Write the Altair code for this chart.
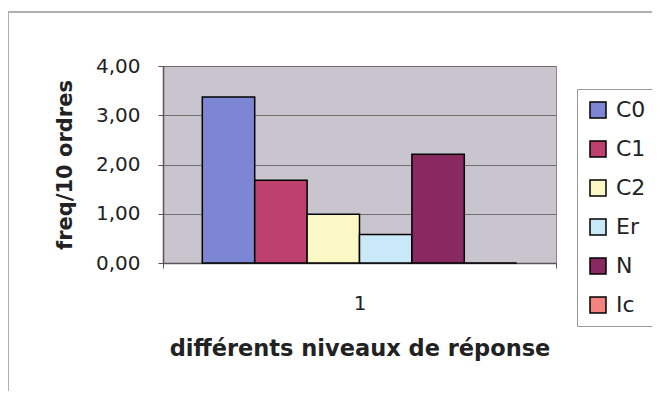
import altair as alt
import pandas as pd

series = ["C0", "C1", "C2", "Er", "N", "Ic"]
values = [3.37, 1.68, 0.99, 0.58, 2.21, 0.0]
category = ["1"] * len(series)
colors = ["#7c86d4", "#bd416c", "#fcf8c6", "#c9e9f8", "#8a2862", "#f2837f"]
y_ticks = [0, 1, 2, 3, 4]

df = pd.DataFrame({"cat": category, "serie": series, "val": values})

FONT = "DejaVu Sans"

bars = alt.Chart(df).mark_bar(stroke="black", strokeWidth=1.5).encode(
    x=alt.X("cat:N", title="différents niveaux de réponse",
            scale=alt.Scale(paddingInner=0, paddingOuter=0),
            axis=alt.Axis(labelAngle=0, tickBand="extent", tickSize=5,
                          labelPadding=25, titlePadding=24, titleFontSize=22.5,
                          grid=False)),
    xOffset=alt.XOffset("serie:N", sort=series,
                        scale=alt.Scale(paddingInner=0, paddingOuter=0.75)),
    y=alt.Y("val:Q", title="freq/10 ordres",
            scale=alt.Scale(domain=[0, 4], nice=False),
            axis=alt.Axis(values=y_ticks,
                          labelExpr="replace(format(datum.value, '.2f'), '.', ',')",
                          tickSize=5, labelPadding=18, titlePadding=20)),
    color=alt.Color("serie:N", sort=series,
                    scale=alt.Scale(domain=series, range=colors),
                    legend=alt.Legend(title=None, orient="none",
                                      legendX=414, legendY=23,
                                      symbolType="square", symbolSize=256,
                                      symbolStrokeColor="black", symbolStrokeWidth=1.5,
                                      symbolOpacity=1,
                                      labelFontSize=22, labelFont=FONT, labelColor="#222",
                                      labelOffset=7, rowPadding=17,
                                      padding=10, strokeColor="#999", fillColor="white")),
)

frame_top = alt.Chart(df).mark_rule(color="#b0b0b0", strokeWidth=2).encode(
    x=alt.value(-155), x2=alt.value(489), y=alt.value(-54))
frame_left = alt.Chart(df).mark_rule(color="#b0b0b0", strokeWidth=2).encode(
    x=alt.value(-155), y=alt.value(-54), y2=alt.value(330))

chart = alt.layer(frame_top, frame_left, bars).properties(
    width=393, height=197,
    autosize=alt.AutoSizeParams(type="none"),
    padding={"left": 155, "top": 58, "right": 96, "bottom": 128},
    background="white",
).configure_view(
    fill="#c9c5cf", stroke="#8a8a8a", strokeWidth=1
).configure_axis(
    labelFont=FONT, titleFont=FONT, labelFontSize=20, titleFontSize=21,
    labelColor="#222", titleColor="#222", titleFontWeight="bold",
    domainColor="#555", tickColor="#555", gridColor="#707070", gridWidth=1,
    domainWidth=1.5,
)

chart.save("out.html", embed_options={"renderer": "svg", "actions": False})
